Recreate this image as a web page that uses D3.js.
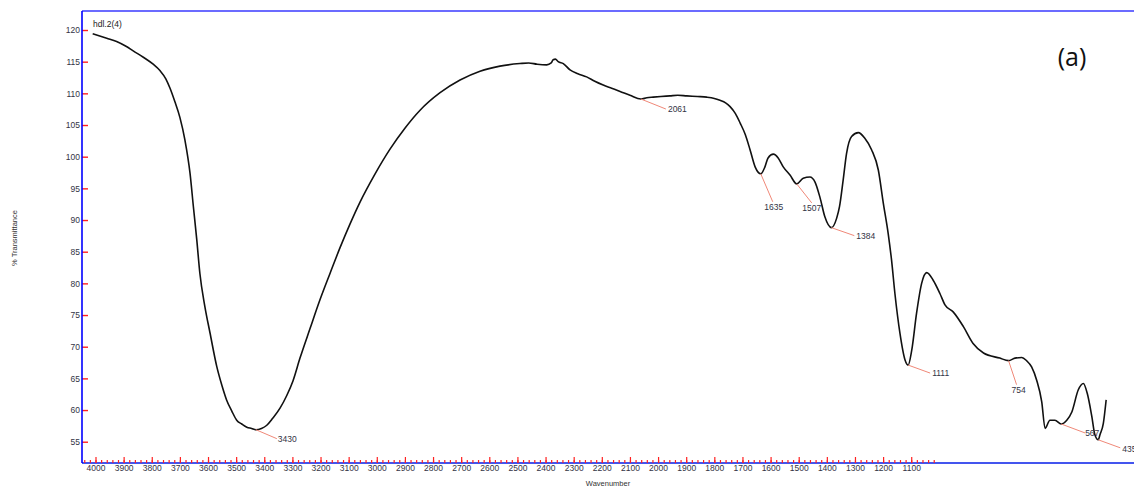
<!DOCTYPE html>
<html>
<head>
<meta charset="utf-8">
<script src="https://cdn.jsdelivr.net/npm/d3@7"></script>
<style>
  html, body { margin: 0; padding: 0; background: #fff; }
  svg { display: block; font-family: "Liberation Sans", Arial, sans-serif; }
</style>
</head>
<body>
<svg id="chart" width="1134" height="488"></svg>
<script>
// FTIR spectrum of sample hdl.2(4): wavenumber (cm-1) vs % transmittance
const wavenumber = [
  4010, 3960, 3925, 3890, 3866, 3830, 3795, 3771, 3750, 3735, 3718, 3700, 3682, 3664,
  3652, 3640, 3629, 3611, 3593, 3569, 3550, 3534, 3515, 3498, 3480, 3462, 3445, 3430,
  3410, 3391, 3370, 3344, 3320, 3298, 3273, 3237, 3202, 3166, 3131, 3095, 3060, 3006,
  2953, 2900, 2847, 2775, 2704, 2633, 2562, 2491, 2460, 2430, 2396, 2380, 2373, 2365,
  2355, 2337, 2313, 2285, 2254, 2225, 2195, 2165, 2135, 2100, 2061, 2040, 2017, 1990,
  1958, 1930, 1898, 1860, 1827, 1800, 1780, 1760, 1744, 1725, 1708, 1690, 1673, 1655,
  1635, 1620, 1609, 1590, 1573, 1555, 1531, 1507, 1484, 1460, 1442, 1424, 1407, 1384,
  1365, 1355, 1342, 1330, 1312, 1288, 1265, 1241, 1217, 1199, 1182, 1170, 1158, 1140,
  1122, 1111, 1098, 1081, 1063, 1045, 1022, 998, 980, 951, 915, 880, 843, 785,
  754, 731, 707, 690, 672, 654, 636, 624, 607, 589, 567, 547, 529, 506,
  488, 474, 458, 447, 435, 429, 417, 407
];
const transmittance = [
  119.4, 118.7, 118.2, 117.4, 116.7, 115.7, 114.6, 113.6, 112.3, 110.8, 108.7, 106.2, 102.6, 97.4,
  92.1, 86.9, 81.6, 76.3, 72.2, 66.9, 63.8, 61.6, 59.8, 58.4, 57.8, 57.3, 57.1, 56.9,
  57.1, 57.6, 58.7, 60.3, 62.3, 64.6, 68.2, 72.9, 77.4, 81.6, 85.6, 89.4, 92.8, 97.3,
  101.2, 104.5, 107.3, 110.1, 112.1, 113.5, 114.3, 114.7, 114.8, 114.6, 114.5, 114.8, 115.3, 115.4,
  115.0, 114.7, 113.7, 113.1, 112.6, 111.9, 111.3, 110.8, 110.3, 109.7, 109.1, 109.3, 109.4, 109.5,
  109.6, 109.7, 109.6, 109.5, 109.4, 109.2, 108.9, 108.5, 107.9, 106.8, 105.3, 103.5, 101.1, 98.4,
  97.3, 98.4, 99.8, 100.4, 99.8, 98.4, 97.1, 95.7, 96.6, 96.8, 96.0, 93.5, 90.5, 88.8,
  90.3, 92.1, 96.3, 100.5, 103.2, 103.8, 102.9, 101.1, 97.9, 92.6, 87.9, 83.7, 78.4, 72.1,
  67.9, 67.1, 69.5, 75.3, 80.0, 81.7, 80.5, 78.4, 76.6, 75.5, 73.2, 70.5, 69.0, 68.2,
  67.8, 68.2, 68.3, 67.8, 66.8, 64.7, 61.3, 57.1, 58.4, 58.4, 57.8, 58.4, 59.7, 63.2,
  64.2, 62.6, 59.0, 56.1, 55.3, 56.1, 57.9, 61.6
];

// Picked peaks (labelled wavenumbers)
const peakWavenumbers = [3430, 2061, 1635, 1507, 1384, 1111, 754, 567, 435];

// Axis ticks
const yTickValues = [55, 60, 65, 70, 75, 80, 85, 90, 95, 100, 105, 110, 115, 120];
const xMajorTicks = d3.range(4000, 1099, -100);
const xMinorTicks = d3.range(4040, 1019, -20);

// Leader-line end offsets (px) and label anchoring for each peak label
const peakLabelLayout = [
  { dx: 21, dy: 9,  tx: 22, ty: 12, anchor: "start" },
  { dx: 25, dy: 10, tx: 27, ty: 13, anchor: "start" },
  { dx: 12, dy: 28, tx: 13, ty: 36, anchor: "middle" },
  { dx: 15, dy: 19, tx: 15, ty: 27, anchor: "middle" },
  { dx: 23, dy: 8,  tx: 25, ty: 11, anchor: "start" },
  { dx: 22, dy: 8,  tx: 24, ty: 11, anchor: "start" },
  { dx: 8,  dy: 24, tx: 10, ty: 32, anchor: "middle" },
  { dx: 24, dy: 9,  tx: 24, ty: 12, anchor: "start" },
  { dx: 22, dy: 8,  tx: 24, ty: 12, anchor: "start" }
];

const svg = d3.select("#chart");
const plotLeft = 82, plotRight = 1134, plotTop = 11, plotBottom = 463;

const x = d3.scaleLinear().domain([4048, 308]).range([plotLeft, plotRight]);
const y = d3.scaleLinear().domain([51.64, 123]).range([plotBottom, plotTop]);

svg.append("rect").attr("width", 1134).attr("height", 488).attr("fill", "#fff");

const points = wavenumber.map((w, i) => ({ w, t: transmittance[i] }));

// Spectrum trace
svg.append("path")
  .datum(points)
  .attr("fill", "none")
  .attr("stroke", "#111")
  .attr("stroke-width", 1.6)
  .attr("stroke-linejoin", "round")
  .attr("d", d3.line().curve(d3.curveMonotoneX).x(d => x(d.w)).y(d => y(d.t)));

// Frame lines
svg.append("line").attr("x1", plotLeft).attr("x2", plotRight).attr("y1", plotTop).attr("y2", plotTop)
  .attr("stroke", "#3a3aff").attr("stroke-width", 1.3);
svg.append("line").attr("x1", plotLeft).attr("x2", plotRight).attr("y1", plotBottom).attr("y2", plotBottom)
  .attr("stroke", "#4455ee").attr("stroke-width", 2);

// Y axis (ticks point into the plot)
const yAxis = svg.append("g").attr("transform", `translate(${plotLeft},0)`)
  .call(d3.axisLeft(y).tickValues(yTickValues).tickSizeInner(-6).tickSizeOuter(0).tickPadding(2));
yAxis.select(".domain").remove();
yAxis.selectAll(".tick line").attr("stroke", "#ff2020").attr("stroke-width", 1.4);
yAxis.selectAll(".tick text").attr("fill", "#333344").attr("font-size", 8.5)
  .attr("font-family", "Liberation Sans, Arial, sans-serif");

// X axis: minor ticks every 20, major ticks every 100 with labels
const xMinor = svg.append("g").attr("transform", `translate(0,${plotBottom})`)
  .call(d3.axisBottom(x).tickValues(xMinorTicks).tickSizeInner(-3).tickSizeOuter(0).tickFormat(""));
xMinor.select(".domain").remove();
xMinor.selectAll(".tick line").attr("stroke", "#ff2020").attr("stroke-width", 1.2);

const xMajor = svg.append("g").attr("transform", `translate(0,${plotBottom})`)
  .call(d3.axisBottom(x).tickValues(xMajorTicks).tickSizeInner(-6).tickSizeOuter(0).tickPadding(2).tickFormat(d3.format("d")));
xMajor.select(".domain").remove();
xMajor.selectAll(".tick line").attr("stroke", "#ff2020").attr("stroke-width", 1.2);
xMajor.selectAll(".tick text").attr("fill", "#333344").attr("font-size", 8.5)
  .attr("font-family", "Liberation Sans, Arial, sans-serif");

// Left axis line
svg.append("line").attr("x1", plotLeft).attr("x2", plotLeft).attr("y1", plotTop).attr("y2", plotBottom)
  .attr("stroke", "#0000ff").attr("stroke-width", 1.6);

// Peak labels with leader lines
const peaks = peakWavenumbers.map((w, i) => {
  const idx = wavenumber.indexOf(w);
  return { w, t: transmittance[idx], layout: peakLabelLayout[i] };
});
const pg = svg.append("g");
peaks.forEach(p => {
  const px = x(p.w), py = y(p.t), L = p.layout;
  pg.append("line").attr("x1", px).attr("y1", py).attr("x2", px + L.dx).attr("y2", py + L.dy)
    .attr("stroke", "#f08878").attr("stroke-width", 1);
  pg.append("text").attr("x", px + L.tx).attr("y", py + L.ty)
    .attr("text-anchor", L.anchor).attr("font-size", 8.5).attr("fill", "#333344")
    .text(p.w);
});

// Titles
svg.append("text").attr("x", 93).attr("y", 27).attr("font-size", 8.5).attr("fill", "#222")
  .text("hdl.2(4)");
svg.append("text").attr("x", 1072).attr("y", 66).attr("text-anchor", "middle")
  .attr("font-size", 25).attr("font-family", "Open Sans, Liberation Sans, sans-serif").attr("fill", "#111")
  .text("(a)");
svg.append("text").attr("x", 608).attr("y", 486).attr("text-anchor", "middle")
  .attr("font-size", 7.5).attr("fill", "#333").text("Wavenumber");
svg.append("text").attr("transform", "translate(17,238) rotate(-90)").attr("text-anchor", "middle")
  .attr("font-size", 7.5).attr("fill", "#333").text("% Transmittance");
</script>
</body>
</html>
